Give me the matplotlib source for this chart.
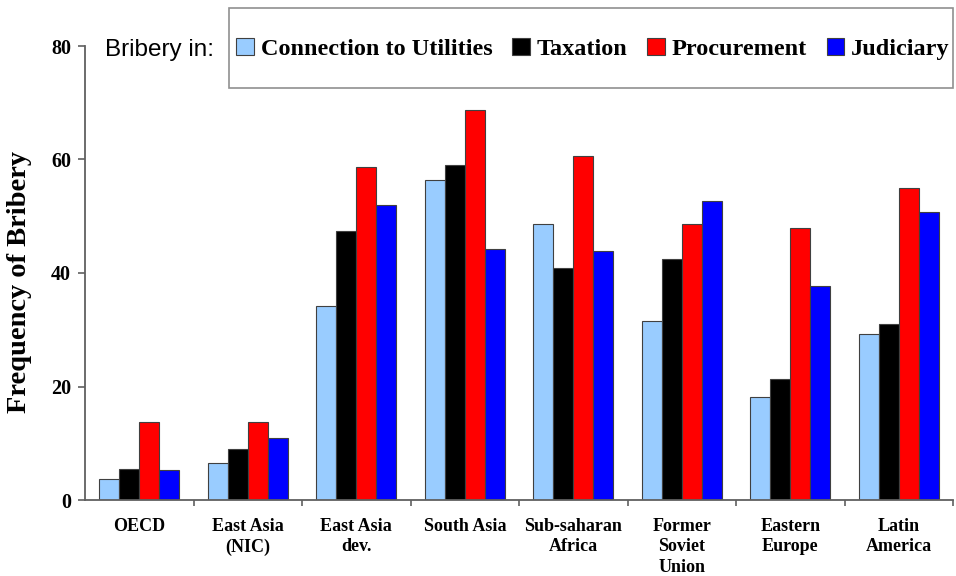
import matplotlib
matplotlib.use("Agg")
import matplotlib.pyplot as plt
import numpy as np
from matplotlib.patches import Rectangle, Patch

regions = ["OECD", "East Asia\n(NIC)", "East Asia\ndev.", "South Asia",
           "Sub-saharan\nAfrica", "Former\nSoviet\nUnion", "Eastern\nEurope",
           "Latin\nAmerica"]
series_names = ["Connection to Utilities", "Taxation", "Procurement", "Judiciary"]
utilities = [3.7, 6.6, 34.2, 56.3, 48.6, 31.5, 18.1, 29.2]
taxation = [5.5, 9.0, 47.4, 59.0, 40.8, 42.5, 21.3, 31.0]
procurement = [13.7, 13.7, 58.7, 68.7, 60.6, 48.6, 48.0, 54.9]
judiciary = [5.3, 11.0, 52.0, 44.2, 43.9, 52.6, 37.7, 50.7]
colors = ["#99CCFF", "#000000", "#FF0000", "#0000FF"]

serif = "Liberation Serif"
sans = "Liberation Sans"

fig = plt.figure(figsize=(9.56, 5.76), dpi=100)
ax = fig.add_axes([85/956, 76/576, 868/956, 454/576])

x = np.arange(len(regions))
w = 0.185
for i, (vals, c) in enumerate(zip([utilities, taxation, procurement, judiciary], colors)):
    ax.bar(x + (i - 1.5) * w, vals, width=w, color=c, edgecolor="#404040", linewidth=0.8)

ax.set_xlim(-0.5, len(regions) - 0.5)
ax.set_ylim(0, 80)
ax.set_yticks([0, 20, 40, 60, 80])
ax.set_xticks(x)
ax.set_xticklabels(regions, fontfamily=serif, fontweight="bold", fontsize=13,
                   linespacing=1.25, va="top")
ax.set_xticks(np.arange(0.5, len(regions)), minor=True)
ax.tick_params(axis="x", which="major", length=0, pad=13)
ax.tick_params(axis="x", which="minor", length=4, width=1.2, color="#606060", direction="out")
ax.tick_params(axis="y", length=5, width=1.2, color="#606060", pad=5)
for lab in ax.get_yticklabels():
    lab.set_fontfamily(serif)
    lab.set_fontweight("bold")
    lab.set_fontsize(14.5)

for s in ["top", "right"]:
    ax.spines[s].set_visible(False)
for s in ["left", "bottom"]:
    ax.spines[s].set_color("#606060")
    ax.spines[s].set_linewidth(1.3)

ax.set_ylabel("Frequency of Bribery", fontfamily=serif, fontweight="bold",
              fontsize=20.5)
ax.yaxis.set_label_coords(-0.061, 0.48)

# legend box
fig.patches.append(Rectangle((229/956, 1 - 88/576), 724/956, 80/576,
                             transform=fig.transFigure, fill=False,
                             edgecolor="#909090", linewidth=1.2))
fig.text(105/956, 1 - 50/576, "Bribery in:", fontfamily=sans, fontsize=17.5,
         va="center", ha="left")
handles = [Patch(facecolor=c, edgecolor="#404040", linewidth=0.8) for c in colors]
fig.legend(handles, series_names, loc="center",
           bbox_to_anchor=(593/956, 1 - 49/576), ncol=4, frameon=False,
           prop={"family": serif, "weight": "bold", "size": 17.5},
           handlelength=0.72, handleheight=0.68, handletextpad=0.3,
           columnspacing=0.8, borderpad=0)

fig.savefig("out.png", dpi=100)
